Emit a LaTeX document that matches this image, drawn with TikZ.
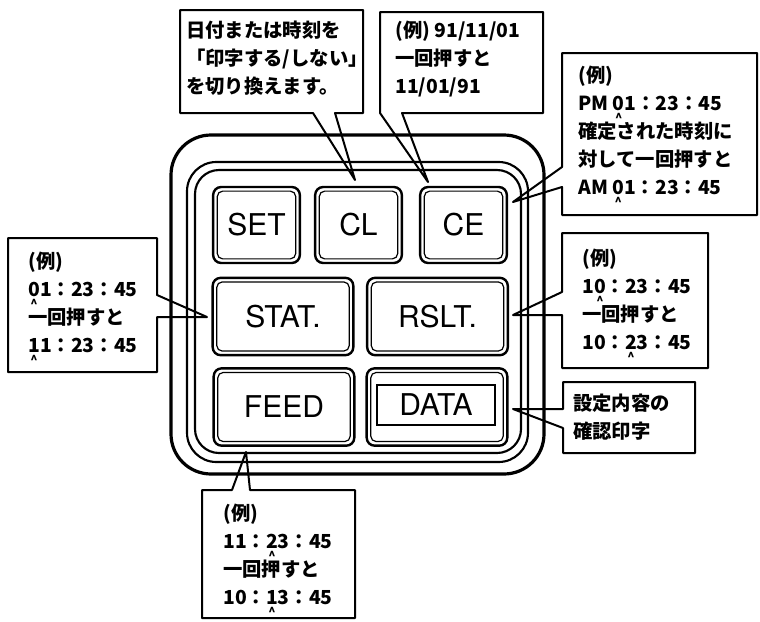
\documentclass[tikz,border=0pt]{standalone}
\usepackage{fontspec}
\newfontfamily\jpfont{Noto Sans CJK JP}
\newfontfamily\keyfont{TeX Gyre Heros}
\newsavebox\digbox
\newcommand\caretdig[1]{\sbox\digbox{#1}\rlap{\usebox\digbox}\makebox[\wd\digbox]{\raisebox{-0.62em}[0pt][0pt]{\fontsize{9pt}{9pt}\selectfont\textasciicircum}}}

\begin{document}
\begin{tikzpicture}[
  x=0.75pt, y=-0.75pt,
  key/.style={draw, line width=1.8pt, rounded corners=6pt, font={\keyfont\fontsize{22.5pt}{24pt}\selectfont}},
  smallkey/.style={key, minimum width=65pt, minimum height=57pt},
  widekey/.style={key, minimum width=105.5pt, minimum height=58pt},
  keyin/.style={line width=0.9pt, rounded corners=4pt},
  callout/.style={line width=1.5pt, line join=round},
  note/.style={font={\jpfont\bfseries\fontsize{14.5pt}{21pt}\selectfont}, align=left, inner sep=0pt, anchor=west}
]
\useasboundingbox (0,0) rectangle (760,621);

% Frames of the panel
\draw[line width=2.4pt, rounded corners=30pt] (171,135) rectangle (544,474);
\draw[line width=1.6pt, rounded corners=22pt] (187,162) rectangle (528,462);
\draw[line width=1.6pt, rounded corners=18pt] (195,170) rectangle (521,453);

% --- Keys ---
\node[smallkey] (set) at (256.5,225) {SET};
\node[smallkey] (cl) at (358.5,225) {CL};
\node[smallkey] (ce) at (463.5,225) {CE};
\node[widekey] (stat) at (283,316.5) {STAT.};
\node[widekey] (rslt) at (437.5,316.5) {RSLT.};
\node[widekey] (feed) at (284,407) {FEED};
\node[widekey] (data) at (437,407) {};
\node[draw, line width=1.4pt, minimum width=88pt, minimum height=30pt, inner sep=0pt,
  font={\keyfont\fontsize{22.5pt}{24pt}\selectfont}] (datatxt) at (436,405) {DATA};

\foreach \k in {set,cl,ce,stat,rslt,feed,data}
  \draw[keyin] ([xshift=4pt,yshift=-4pt]\k.north west) rectangle ([xshift=-4pt,yshift=4pt]\k.south east);

% --- Pointer tips ---
\coordinate (tipcl) at (355,180);
\coordinate (tipce) at (428,182);
\coordinate (tipam) at (513,202);
\coordinate (tipstat) at (207,317);
\coordinate (tiprslt) at (513,315);
\coordinate (tipdata) at (513,409);
\coordinate (tipfeed) at (246,452);

% --- Callouts ---
\draw[callout] (313,113) -- (180,113) -- (180,10) -- (363,10) -- (363,113) -- (335,113) -- (tipcl) -- cycle;
\draw[callout] (402,113) -- (543,113) -- (543,12) -- (380,12) -- (380,113) -- (tipce) -- cycle;
\draw[callout] (562,167) -- (562,53) -- (757,53) -- (757,215) -- (562,215) -- (562,187) -- (tipam) -- cycle;
\draw[callout] (157,295) -- (157,238) -- (8,238) -- (8,372) -- (157,372) -- (157,317) -- (tipstat) -- cycle;
\draw[callout] (562,292) -- (562,233) -- (708,233) -- (708,368) -- (562,368) -- (562,315) -- (tiprslt) -- cycle;
\draw[callout] (563,409) -- (563,382) -- (695,382) -- (695,453) -- (563,453) -- (563,428) -- (tipdata) -- cycle;
\draw[callout] (232,490) -- (202,490) -- (202,618) -- (355,618) -- (355,490) -- (250,490) -- (tipfeed) -- cycle;

% --- Callout texts ---
\node[note] (notecl) at (186,58) {日付または時刻を\\「印字する/しない」\\を切り換えます。};
\node[note] (notece) at (395,59.5) {(例) 91/11/01\\一回押すと\\11/01/91};
\node[note] (noteam) at (578,130) {(例)\\PM \caretdig{0}1：23：45\\確定された時刻に\\対して一回押すと\\AM \caretdig{0}1：23：45};
\node[note] (notestat) at (28,302) {(例)\\\caretdig{0}1：23：45\\一回押すと\\\caretdig{1}1：23：45};
\node[note] (notersl) at (582,299) {(例)\\1\caretdig{0}：23：45\\一回押すと\\10：\caretdig{2}3：45};
\node[note] (notedata) at (573,417.5) {設定内容の\\確認印字};
\node[note] (notefeed) at (223,554) {(例)\\11：\caretdig{2}3：45\\一回押すと\\10：\caretdig{1}3：45};

\end{tikzpicture}
\end{document}
